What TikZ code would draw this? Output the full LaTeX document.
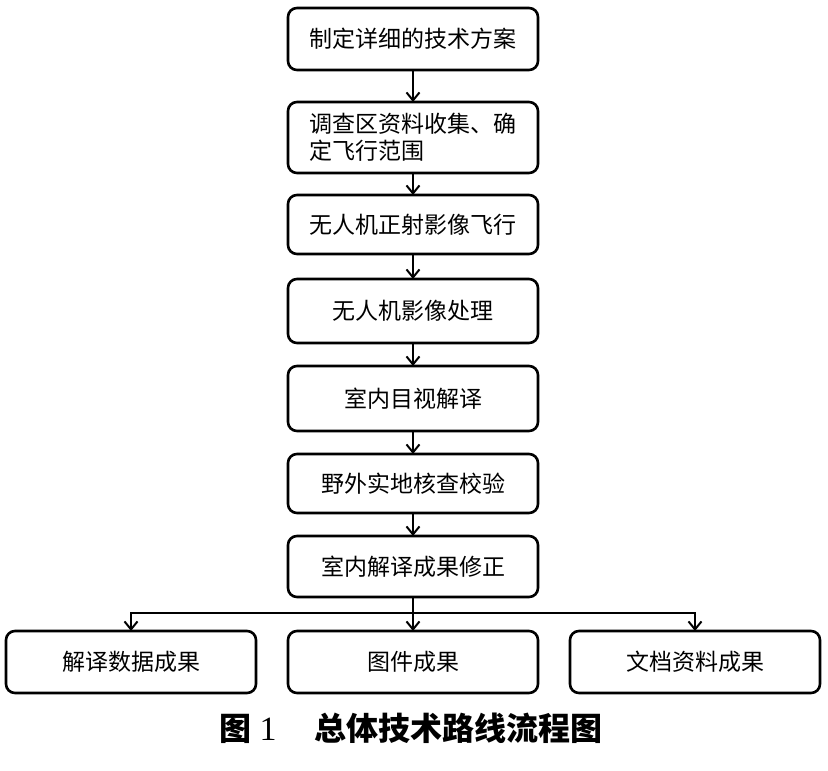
\documentclass[tikz,border=0pt]{standalone}
\usepackage{fontspec}
\setmainfont{Liberation Serif}
\newfontfamily\cjk{Noto Sans CJK SC}
\usetikzlibrary{arrows.meta,positioning}

\begin{document}
\begin{tikzpicture}[
    x=1pt, y=1pt,
    node distance=23pt,
    stepbox/.style={rectangle,rounded corners=9pt,draw,line width=2.6pt,outer sep=0pt,minimum width=250pt,minimum height=62pt,font=\cjk\fontsize{23}{27}\selectfont},
    line/.style={draw,line width=2pt,-{Straight Barb[length=8pt,width=13pt,line width=2pt]}}]

    \useasboundingbox (0,0) rectangle (828,-771);

    % Main column
    \node[stepbox] (plan) at (413,-39) {制定详细的技术方案};
    \node[stepbox, below=32pt of plan, minimum height=71pt, align=left] (survey) {调查区资料收集、确\\定飞行范围};
    \node[stepbox, below=22pt of survey, minimum height=59pt] (flight) {无人机正射影像飞行};
    \node[stepbox, below=25pt of flight, minimum height=64pt] (process) {无人机影像处理};
    \node[stepbox, below=of process, minimum height=65pt] (interp) {室内目视解译};
    \node[stepbox, below=of interp, minimum height=59pt] (field) {野外实地核查校验};
    \node[stepbox, below=of field, minimum height=61pt] (fix) {室内解译成果修正};

    % Result boxes
    \node[stepbox, below=34pt of fix] (maps) {图件成果};
    \node[stepbox, left=32pt of maps] (data) {解译数据成果};
    \node[stepbox, right=32pt of maps] (docs) {文档资料成果};

    % Caption
    \node[font=\fontsize{32}{36}\selectfont] (caption) at (411,-728) {{\cjk\bfseries 图}\hspace{8pt}{\fontsize{34}{36}\selectfont 1}\hspace{38pt}{\cjk\bfseries 总体技术路线流程图}};

    % Connect steps
    \path[line] (plan) -- (survey);
    \path[line] (survey) -- (flight);
    \path[line] (flight) -- (process);
    \path[line] (process) -- (interp);
    \path[line] (interp) -- (field);
    \path[line] (field) -- (fix);

    % Branch to results
    \coordinate[below=16pt of fix] (split);
    \path[line] (fix) -- (maps);
    \path[line] (split) -| (data);
    \path[line] (split) -| (docs);
\end{tikzpicture}
\end{document}
